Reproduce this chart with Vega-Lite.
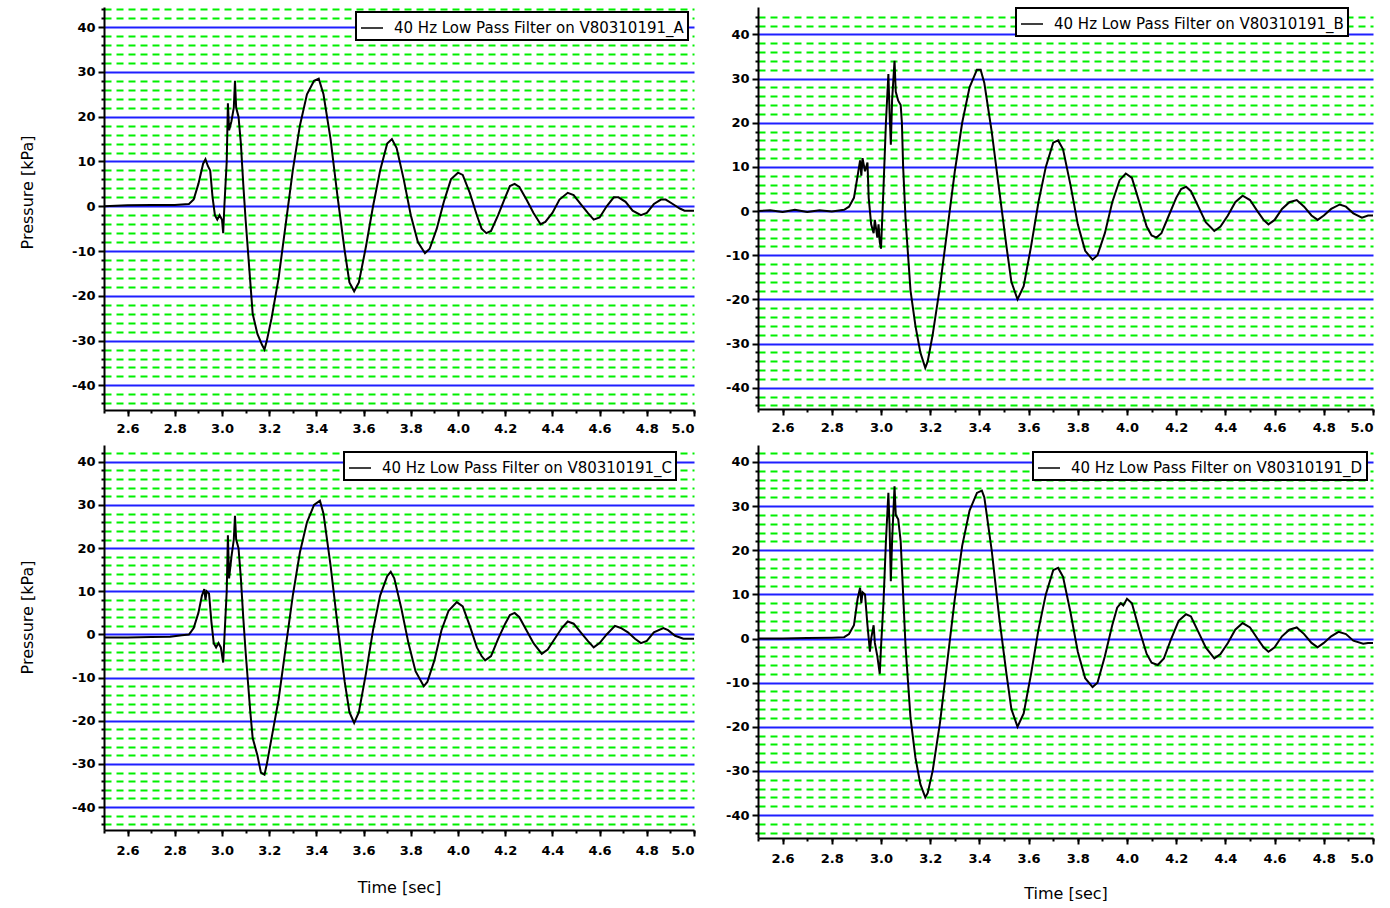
{
  "$schema": "https://vega.github.io/schema/vega-lite/v6.json",
  "padding": {"left": 19, "top": 7, "right": 0, "bottom": 0},
  "background": "white",
  "config": {
    "view": {"stroke": null},
    "axis": {"labelFont": "DejaVu Sans", "labelFontWeight": "bold", "labelFontSize": 13, "labelColor": "black", "domainColor": "black", "domainWidth": 2, "tickColor": "black", "tickWidth": 2, "titleFont": "DejaVu Sans", "titleFontWeight": "normal", "titleFontSize": 16, "titleColor": "black"},
    "legend": {"strokeColor": "black", "fillColor": "white", "strokeWidth": 2, "padding": 4, "labelFont": "DejaVu Sans", "labelFontSize": 15, "labelColor": "black", "labelLimit": 600, "labelOffset": 10, "symbolType": "stroke", "symbolSize": 484, "symbolStrokeWidth": 1.5, "symbolStrokeColor": "black"}
  },
  "datasets": {
    "A": [
      {"t":2.50,"p":0},{"t":2.60,"p":0.2},{"t":2.70,"p":0.3},{"t":2.80,"p":0.3},{"t":2.86,"p":0.5},{"t":2.88,"p":1.5},{"t":2.90,"p":5},{"t":2.92,"p":9.5},{"t":2.93,"p":10.5},{"t":2.94,"p":9},{"t":2.95,"p":8},{"t":2.96,"p":2},{"t":2.97,"p":-2},{"t":2.98,"p":-3},{"t":2.99,"p":-2},{"t":3.00,"p":-3},{"t":3.005,"p":-6},{"t":3.01,"p":0},{"t":3.02,"p":10},{"t":3.025,"p":23},{"t":3.03,"p":17},{"t":3.04,"p":19},{"t":3.05,"p":22},{"t":3.055,"p":28},{"t":3.06,"p":22},{"t":3.07,"p":20},{"t":3.08,"p":14},{"t":3.09,"p":5},{"t":3.10,"p":-3},{"t":3.11,"p":-10},{"t":3.12,"p":-17},{"t":3.13,"p":-24},{"t":3.15,"p":-28.5},{"t":3.17,"p":-31},{"t":3.18,"p":-32},{"t":3.19,"p":-30},{"t":3.21,"p":-25},{"t":3.24,"p":-16},{"t":3.27,"p":-4},{"t":3.30,"p":8},{"t":3.33,"p":18},{"t":3.36,"p":25},{"t":3.39,"p":28},{"t":3.41,"p":28.5},{"t":3.43,"p":25},{"t":3.46,"p":15},{"t":3.49,"p":2},{"t":3.52,"p":-10},{"t":3.54,"p":-17},{"t":3.56,"p":-19},{"t":3.58,"p":-17},{"t":3.61,"p":-9},{"t":3.64,"p":0},{"t":3.67,"p":8},{"t":3.70,"p":14},{"t":3.72,"p":15},{"t":3.74,"p":13},{"t":3.77,"p":6},{"t":3.80,"p":-2},{"t":3.83,"p":-8},{"t":3.86,"p":-10.5},{"t":3.88,"p":-9.5},{"t":3.91,"p":-5},{"t":3.94,"p":1},{"t":3.97,"p":6},{"t":4.00,"p":7.5},{"t":4.02,"p":7},{"t":4.05,"p":3},{"t":4.08,"p":-2},{"t":4.10,"p":-5},{"t":4.12,"p":-6},{"t":4.14,"p":-5.5},{"t":4.17,"p":-2},{"t":4.20,"p":2},{"t":4.22,"p":4.5},{"t":4.24,"p":5},{"t":4.26,"p":4.3},{"t":4.29,"p":1.5},{"t":4.32,"p":-1.5},{"t":4.35,"p":-4},{"t":4.37,"p":-3.5},{"t":4.40,"p":-1.5},{"t":4.43,"p":1.5},{"t":4.465,"p":3},{"t":4.49,"p":2.5},{"t":4.52,"p":0.5},{"t":4.55,"p":-1.5},{"t":4.575,"p":-3},{"t":4.60,"p":-2.5},{"t":4.63,"p":0},{"t":4.66,"p":2},{"t":4.68,"p":2},{"t":4.71,"p":1},{"t":4.74,"p":-1},{"t":4.775,"p":-2},{"t":4.80,"p":-1.5},{"t":4.83,"p":0.5},{"t":4.86,"p":1.5},{"t":4.88,"p":1.5},{"t":4.91,"p":0.5},{"t":4.94,"p":-0.5},{"t":4.96,"p":-1},{"t":4.98,"p":-1},{"t":5.00,"p":-1}
    ],
    "B": [
      {"t":2.50,"p":0},{"t":2.55,"p":0.2},{"t":2.60,"p":-0.2},{"t":2.65,"p":0.3},{"t":2.70,"p":-0.2},{"t":2.75,"p":0.2},{"t":2.80,"p":-0.1},{"t":2.85,"p":0.3},{"t":2.87,"p":1},{"t":2.89,"p":3},{"t":2.905,"p":8},{"t":2.915,"p":11.5},{"t":2.92,"p":8},{"t":2.925,"p":12},{"t":2.935,"p":9},{"t":2.945,"p":11},{"t":2.95,"p":3},{"t":2.96,"p":-3},{"t":2.97,"p":-5},{"t":2.975,"p":-2},{"t":2.985,"p":-6},{"t":2.99,"p":-3},{"t":2.995,"p":-7},{"t":3.00,"p":-8.5},{"t":3.01,"p":5},{"t":3.02,"p":20},{"t":3.03,"p":31},{"t":3.035,"p":22},{"t":3.04,"p":15},{"t":3.045,"p":25},{"t":3.055,"p":34},{"t":3.06,"p":27},{"t":3.07,"p":25},{"t":3.08,"p":24},{"t":3.085,"p":20},{"t":3.09,"p":10},{"t":3.10,"p":-2},{"t":3.11,"p":-10},{"t":3.12,"p":-18},{"t":3.14,"p":-26},{"t":3.16,"p":-32},{"t":3.18,"p":-35.5},{"t":3.19,"p":-34},{"t":3.21,"p":-28},{"t":3.24,"p":-17},{"t":3.27,"p":-4},{"t":3.30,"p":9},{"t":3.33,"p":20},{"t":3.36,"p":28},{"t":3.39,"p":32},{"t":3.405,"p":32},{"t":3.42,"p":29},{"t":3.45,"p":18},{"t":3.48,"p":5},{"t":3.51,"p":-8},{"t":3.53,"p":-16},{"t":3.555,"p":-20},{"t":3.58,"p":-17},{"t":3.61,"p":-8},{"t":3.64,"p":2},{"t":3.67,"p":10},{"t":3.70,"p":15.5},{"t":3.72,"p":16},{"t":3.74,"p":14},{"t":3.77,"p":6},{"t":3.80,"p":-3},{"t":3.83,"p":-9},{"t":3.86,"p":-11},{"t":3.88,"p":-10},{"t":3.91,"p":-5},{"t":3.94,"p":2},{"t":3.97,"p":7},{"t":3.995,"p":8.5},{"t":4.02,"p":7.5},{"t":4.05,"p":2},{"t":4.08,"p":-3.5},{"t":4.10,"p":-5.5},{"t":4.12,"p":-6},{"t":4.14,"p":-5},{"t":4.17,"p":-1},{"t":4.20,"p":3},{"t":4.22,"p":5},{"t":4.24,"p":5.5},{"t":4.26,"p":4.5},{"t":4.29,"p":1},{"t":4.32,"p":-2.5},{"t":4.355,"p":-4.5},{"t":4.38,"p":-3.5},{"t":4.41,"p":-1},{"t":4.44,"p":2},{"t":4.47,"p":3.5},{"t":4.50,"p":2.5},{"t":4.53,"p":0},{"t":4.555,"p":-2},{"t":4.575,"p":-3},{"t":4.60,"p":-2},{"t":4.63,"p":0.5},{"t":4.66,"p":2},{"t":4.69,"p":2.5},{"t":4.72,"p":1},{"t":4.75,"p":-1},{"t":4.775,"p":-2},{"t":4.80,"p":-1},{"t":4.83,"p":0.5},{"t":4.865,"p":1.5},{"t":4.89,"p":1},{"t":4.92,"p":-0.5},{"t":4.955,"p":-1.5},{"t":4.98,"p":-1},{"t":5.00,"p":-1}
    ],
    "C": [
      {"t":2.50,"p":-0.7},{"t":2.60,"p":-0.7},{"t":2.70,"p":-0.6},{"t":2.78,"p":-0.5},{"t":2.83,"p":-0.2},{"t":2.86,"p":0},{"t":2.88,"p":1.5},{"t":2.90,"p":5},{"t":2.915,"p":9},{"t":2.925,"p":10.5},{"t":2.93,"p":8},{"t":2.935,"p":10},{"t":2.945,"p":9.5},{"t":2.955,"p":3},{"t":2.965,"p":-2},{"t":2.975,"p":-3},{"t":2.985,"p":-2},{"t":2.995,"p":-3},{"t":3.005,"p":-6.5},{"t":3.01,"p":-1},{"t":3.02,"p":10},{"t":3.025,"p":23},{"t":3.03,"p":13},{"t":3.04,"p":18},{"t":3.05,"p":22},{"t":3.055,"p":27.5},{"t":3.06,"p":22},{"t":3.07,"p":20},{"t":3.08,"p":13},{"t":3.09,"p":4},{"t":3.10,"p":-4},{"t":3.11,"p":-11},{"t":3.12,"p":-18},{"t":3.13,"p":-24},{"t":3.15,"p":-28},{"t":3.165,"p":-32},{"t":3.18,"p":-32.5},{"t":3.19,"p":-30},{"t":3.21,"p":-24},{"t":3.24,"p":-15},{"t":3.27,"p":-3},{"t":3.30,"p":9},{"t":3.33,"p":19},{"t":3.36,"p":26},{"t":3.39,"p":30},{"t":3.415,"p":31},{"t":3.43,"p":28},{"t":3.46,"p":16},{"t":3.49,"p":2},{"t":3.52,"p":-11},{"t":3.54,"p":-18},{"t":3.56,"p":-20.5},{"t":3.58,"p":-18},{"t":3.61,"p":-9},{"t":3.64,"p":1},{"t":3.67,"p":9},{"t":3.70,"p":13.5},{"t":3.715,"p":14.5},{"t":3.73,"p":13},{"t":3.76,"p":6},{"t":3.79,"p":-2},{"t":3.82,"p":-8.5},{"t":3.855,"p":-12},{"t":3.87,"p":-11},{"t":3.90,"p":-6},{"t":3.93,"p":1},{"t":3.96,"p":5.5},{"t":3.995,"p":7.5},{"t":4.02,"p":6.5},{"t":4.05,"p":2},{"t":4.08,"p":-3},{"t":4.10,"p":-5},{"t":4.115,"p":-6},{"t":4.14,"p":-5},{"t":4.17,"p":-1},{"t":4.20,"p":2.5},{"t":4.22,"p":4.5},{"t":4.24,"p":5},{"t":4.26,"p":4},{"t":4.29,"p":1},{"t":4.32,"p":-2},{"t":4.355,"p":-4.5},{"t":4.38,"p":-3.5},{"t":4.41,"p":-1},{"t":4.44,"p":1.5},{"t":4.465,"p":3},{"t":4.49,"p":2.5},{"t":4.52,"p":0.5},{"t":4.55,"p":-1.5},{"t":4.575,"p":-3},{"t":4.60,"p":-2},{"t":4.63,"p":0},{"t":4.665,"p":2},{"t":4.69,"p":1.5},{"t":4.72,"p":0.5},{"t":4.75,"p":-1},{"t":4.775,"p":-2},{"t":4.80,"p":-1.5},{"t":4.83,"p":0.5},{"t":4.87,"p":1.5},{"t":4.89,"p":1},{"t":4.92,"p":-0.3},{"t":4.955,"p":-1},{"t":4.98,"p":-1},{"t":5.00,"p":-1}
    ],
    "D": [
      {"t":2.50,"p":0},{"t":2.60,"p":0},{"t":2.70,"p":0.1},{"t":2.80,"p":0.2},{"t":2.85,"p":0.3},{"t":2.87,"p":1},{"t":2.89,"p":3},{"t":2.905,"p":9},{"t":2.915,"p":11.5},{"t":2.92,"p":8},{"t":2.925,"p":10.5},{"t":2.935,"p":10},{"t":2.945,"p":3},{"t":2.955,"p":-3},{"t":2.96,"p":0},{"t":2.97,"p":3},{"t":2.975,"p":-1},{"t":2.985,"p":-4},{"t":2.995,"p":-8},{"t":3.00,"p":-2},{"t":3.01,"p":8},{"t":3.02,"p":22},{"t":3.03,"p":33},{"t":3.035,"p":25},{"t":3.04,"p":13},{"t":3.045,"p":22},{"t":3.055,"p":34.5},{"t":3.06,"p":28},{"t":3.07,"p":27},{"t":3.08,"p":22},{"t":3.09,"p":10},{"t":3.10,"p":-2},{"t":3.11,"p":-10},{"t":3.12,"p":-18},{"t":3.14,"p":-27},{"t":3.16,"p":-33},{"t":3.18,"p":-36},{"t":3.19,"p":-35},{"t":3.21,"p":-30},{"t":3.24,"p":-19},{"t":3.27,"p":-5},{"t":3.30,"p":9},{"t":3.33,"p":21},{"t":3.36,"p":29},{"t":3.39,"p":33},{"t":3.41,"p":33.5},{"t":3.42,"p":32},{"t":3.45,"p":20},{"t":3.48,"p":5},{"t":3.51,"p":-8},{"t":3.53,"p":-16},{"t":3.555,"p":-20},{"t":3.58,"p":-17},{"t":3.61,"p":-8},{"t":3.64,"p":2},{"t":3.67,"p":10},{"t":3.70,"p":15.5},{"t":3.72,"p":16},{"t":3.74,"p":14},{"t":3.77,"p":6},{"t":3.80,"p":-3},{"t":3.83,"p":-9},{"t":3.86,"p":-11},{"t":3.88,"p":-10},{"t":3.91,"p":-4},{"t":3.94,"p":3},{"t":3.96,"p":7},{"t":3.975,"p":8},{"t":3.985,"p":7.5},{"t":4.00,"p":9},{"t":4.02,"p":8},{"t":4.05,"p":2},{"t":4.08,"p":-3.5},{"t":4.10,"p":-5.5},{"t":4.125,"p":-6},{"t":4.15,"p":-4.5},{"t":4.18,"p":0},{"t":4.21,"p":4},{"t":4.24,"p":5.5},{"t":4.26,"p":5},{"t":4.29,"p":1.5},{"t":4.32,"p":-2},{"t":4.355,"p":-4.5},{"t":4.38,"p":-3.5},{"t":4.41,"p":-1},{"t":4.44,"p":2},{"t":4.47,"p":3.5},{"t":4.50,"p":2.5},{"t":4.53,"p":0},{"t":4.555,"p":-2},{"t":4.575,"p":-3},{"t":4.60,"p":-2},{"t":4.63,"p":0.5},{"t":4.66,"p":2},{"t":4.69,"p":2.5},{"t":4.72,"p":1},{"t":4.75,"p":-1},{"t":4.775,"p":-2},{"t":4.80,"p":-1},{"t":4.83,"p":0.5},{"t":4.86,"p":1.5},{"t":4.89,"p":1},{"t":4.92,"p":-0.5},{"t":4.96,"p":-1.2},{"t":4.98,"p":-1},{"t":5.00,"p":-1}
    ]
  },
  "columns": 2,
  "spacing": {"row": 10, "column": 27},
  "resolve": {"scale": {"color": "independent"}, "legend": {"color": "independent"}},
  "concat": [
    {
      "width": 590, "height": 403,
      "data": {"name": "A"},
      "resolve": {"axis": {"x": "independent", "y": "independent"}},
      "layer": [
        {"mark": {"type": "line", "opacity": 0},
         "encoding": {
           "x": {"field": "t", "type": "quantitative", "scale": {"domain": [2.5, 5.0], "nice": false, "zero": false}, "axis": {"orient": "bottom", "values": [2.5,2.6,2.7,2.8,2.9,3.0,3.1,3.2,3.3,3.4,3.5,3.6,3.7,3.8,3.9,4.0,4.1,4.2,4.3,4.4,4.5,4.6,4.7,4.8,4.9,5.0], "labels": false, "domain": false, "tickSize": 3, "grid": false, "title": null}},
           "y": {"field": "p", "type": "quantitative", "scale": {"domain": [-45.5, 44.5], "nice": false, "zero": false}, "axis": {"orient": "left", "values": [-44,-42,-38,-36,-34,-32,-28,-26,-24,-22,-18,-16,-14,-12,-8,-6,-4,-2,2,4,6,8,12,14,16,18,22,24,26,28,32,34,36,38,42,44], "labels": false, "domain": false, "tickSize": 3, "grid": true, "gridColor": "#00f000", "gridDash": [7, 5], "gridWidth": 2, "title": null}}
         }},
        {"mark": {"type": "line", "strokeWidth": 2},
         "encoding": {
           "x": {"field": "t", "type": "quantitative", "scale": {"domain": [2.5, 5.0], "nice": false, "zero": false}, "axis": {"orient": "bottom", "values": [2.6,2.8,3.0,3.2,3.4,3.6,3.8,4.0,4.2,4.4,4.6,4.8,5.0], "format": ".1f", "tickSize": 6, "labelPadding": 6, "grid": false, "title": null}},
           "y": {"field": "p", "type": "quantitative", "scale": {"domain": [-45.5, 44.5], "nice": false, "zero": false}, "axis": {"orient": "left", "values": [-40,-30,-20,-10,0,10,20,30,40], "labelExpr": "datum.value < 0 ? '-' + abs(datum.value) : '' + datum.value", "tickSize": 6, "labelPadding": 3, "grid": true, "gridColor": "#1f1fff", "gridWidth": 2, "title": "Pressure [kPa]", "titlePadding": 36, "titleY": 185}},
           "color": {"datum": "40 Hz Low Pass Filter on V80310191_A", "type": "nominal", "scale": {"range": ["black"]}, "legend": {"title": null, "orient": "none", "legendX": 252, "legendY": 5}}
         }}
      ]
    },
    {
      "width": 615, "height": 402,
      "data": {"name": "B"},
      "resolve": {"axis": {"x": "independent", "y": "independent"}},
      "layer": [
        {"mark": {"type": "line", "opacity": 0},
         "encoding": {
           "x": {"field": "t", "type": "quantitative", "scale": {"domain": [2.5, 5.0], "nice": false, "zero": false}, "axis": {"orient": "bottom", "values": [2.5,2.6,2.7,2.8,2.9,3.0,3.1,3.2,3.3,3.4,3.5,3.6,3.7,3.8,3.9,4.0,4.1,4.2,4.3,4.4,4.5,4.6,4.7,4.8,4.9,5.0], "labels": false, "domain": false, "tickSize": 3, "grid": false, "title": null}},
           "y": {"field": "p", "type": "quantitative", "scale": {"domain": [-44.8, 46.2], "nice": false, "zero": false}, "axis": {"orient": "left", "values": [-44,-42,-38,-36,-34,-32,-28,-26,-24,-22,-18,-16,-14,-12,-8,-6,-4,-2,2,4,6,8,12,14,16,18,22,24,26,28,32,34,36,38,42,44], "labels": false, "domain": false, "tickSize": 3, "grid": true, "gridColor": "#00f000", "gridDash": [7, 5], "gridWidth": 2, "title": null}}
         }},
        {"mark": {"type": "line", "strokeWidth": 2},
         "encoding": {
           "x": {"field": "t", "type": "quantitative", "scale": {"domain": [2.5, 5.0], "nice": false, "zero": false}, "axis": {"orient": "bottom", "values": [2.6,2.8,3.0,3.2,3.4,3.6,3.8,4.0,4.2,4.4,4.6,4.8,5.0], "format": ".1f", "tickSize": 6, "labelPadding": 6, "grid": false, "title": null}},
           "y": {"field": "p", "type": "quantitative", "scale": {"domain": [-44.8, 46.2], "nice": false, "zero": false}, "axis": {"orient": "left", "values": [-40,-30,-20,-10,0,10,20,30,40], "labelExpr": "datum.value < 0 ? '-' + abs(datum.value) : '' + datum.value", "tickSize": 6, "labelPadding": 3, "grid": true, "gridColor": "#1f1fff", "gridWidth": 2, "title": null}},
           "color": {"datum": "40 Hz Low Pass Filter on V80310191_B", "type": "nominal", "scale": {"range": ["black"]}, "legend": {"title": null, "orient": "none", "legendX": 258, "legendY": 1}}
         }}
      ]
    },
    {
      "width": 590, "height": 385,
      "data": {"name": "C"},
      "resolve": {"axis": {"x": "independent", "y": "independent"}},
      "layer": [
        {"mark": {"type": "line", "opacity": 0},
         "encoding": {
           "x": {"field": "t", "type": "quantitative", "scale": {"domain": [2.5, 5.0], "nice": false, "zero": false}, "axis": {"orient": "bottom", "values": [2.5,2.6,2.7,2.8,2.9,3.0,3.1,3.2,3.3,3.4,3.5,3.6,3.7,3.8,3.9,4.0,4.1,4.2,4.3,4.4,4.5,4.6,4.7,4.8,4.9,5.0], "labels": false, "domain": false, "tickSize": 3, "grid": false, "title": null}},
           "y": {"field": "p", "type": "quantitative", "scale": {"domain": [-45.3, 43.9], "nice": false, "zero": false}, "axis": {"orient": "left", "values": [-44,-42,-38,-36,-34,-32,-28,-26,-24,-22,-18,-16,-14,-12,-8,-6,-4,-2,2,4,6,8,12,14,16,18,22,24,26,28,32,34,36,38,42], "labels": false, "domain": false, "tickSize": 3, "grid": true, "gridColor": "#00f000", "gridDash": [7, 5], "gridWidth": 2, "title": null}}
         }},
        {"mark": {"type": "line", "strokeWidth": 2},
         "encoding": {
           "x": {"field": "t", "type": "quantitative", "scale": {"domain": [2.5, 5.0], "nice": false, "zero": false}, "axis": {"orient": "bottom", "values": [2.6,2.8,3.0,3.2,3.4,3.6,3.8,4.0,4.2,4.4,4.6,4.8,5.0], "format": ".1f", "tickSize": 6, "labelPadding": 8, "grid": false, "title": "Time [sec]", "titlePadding": 22}},
           "y": {"field": "p", "type": "quantitative", "scale": {"domain": [-45.3, 43.9], "nice": false, "zero": false}, "axis": {"orient": "left", "values": [-40,-30,-20,-10,0,10,20,30,40], "labelExpr": "datum.value < 0 ? '-' + abs(datum.value) : '' + datum.value", "tickSize": 6, "labelPadding": 3, "grid": true, "gridColor": "#1f1fff", "gridWidth": 2, "title": "Pressure [kPa]", "titlePadding": 36, "titleY": 172}},
           "color": {"datum": "40 Hz Low Pass Filter on V80310191_C", "type": "nominal", "scale": {"range": ["black"]}, "legend": {"title": null, "orient": "none", "legendX": 240, "legendY": 7}}
         }}
      ]
    },
    {
      "width": 615, "height": 393,
      "data": {"name": "D"},
      "resolve": {"axis": {"x": "independent", "y": "independent"}},
      "layer": [
        {"mark": {"type": "line", "opacity": 0},
         "encoding": {
           "x": {"field": "t", "type": "quantitative", "scale": {"domain": [2.5, 5.0], "nice": false, "zero": false}, "axis": {"orient": "bottom", "values": [2.5,2.6,2.7,2.8,2.9,3.0,3.1,3.2,3.3,3.4,3.5,3.6,3.7,3.8,3.9,4.0,4.1,4.2,4.3,4.4,4.5,4.6,4.7,4.8,4.9,5.0], "labels": false, "domain": false, "tickSize": 3, "grid": false, "title": null}},
           "y": {"field": "p", "type": "quantitative", "scale": {"domain": [-45.2, 43.85], "nice": false, "zero": false}, "axis": {"orient": "left", "values": [-44,-42,-38,-36,-34,-32,-28,-26,-24,-22,-18,-16,-14,-12,-8,-6,-4,-2,2,4,6,8,12,14,16,18,22,24,26,28,32,34,36,38,42], "labels": false, "domain": false, "tickSize": 3, "grid": true, "gridColor": "#00f000", "gridDash": [7, 5], "gridWidth": 2, "title": null}}
         }},
        {"mark": {"type": "line", "strokeWidth": 2},
         "encoding": {
           "x": {"field": "t", "type": "quantitative", "scale": {"domain": [2.5, 5.0], "nice": false, "zero": false}, "axis": {"orient": "bottom", "values": [2.6,2.8,3.0,3.2,3.4,3.6,3.8,4.0,4.2,4.4,4.6,4.8,5.0], "format": ".1f", "tickSize": 6, "labelPadding": 8, "grid": false, "title": "Time [sec]", "titlePadding": 20}},
           "y": {"field": "p", "type": "quantitative", "scale": {"domain": [-45.2, 43.85], "nice": false, "zero": false}, "axis": {"orient": "left", "values": [-40,-30,-20,-10,0,10,20,30,40], "labelExpr": "datum.value < 0 ? '-' + abs(datum.value) : '' + datum.value", "tickSize": 6, "labelPadding": 3, "grid": true, "gridColor": "#1f1fff", "gridWidth": 2, "title": null}},
           "color": {"datum": "40 Hz Low Pass Filter on V80310191_D", "type": "nominal", "scale": {"range": ["black"]}, "legend": {"title": null, "orient": "none", "legendX": 275, "legendY": 7}}
         }}
      ]
    }
  ]
}
